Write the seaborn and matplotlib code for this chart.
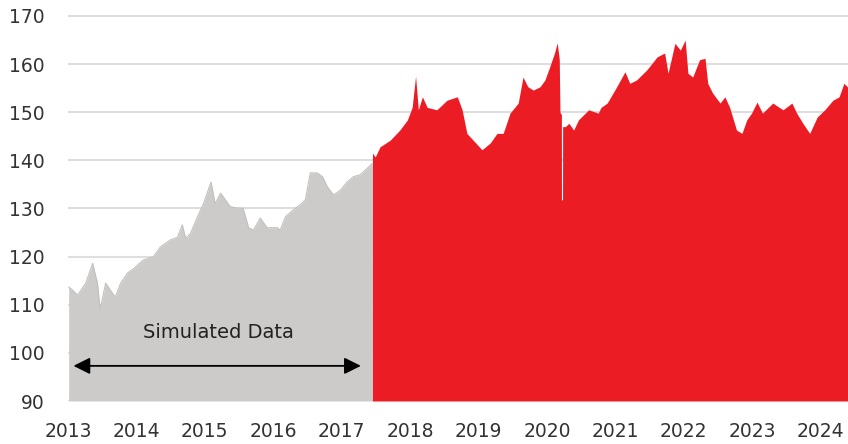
import matplotlib
matplotlib.use("Agg")
import matplotlib.pyplot as plt
import seaborn as sns
import pandas as pd

# ---- data (decimal year, index value) ----
sim_years = [2013.01, 2013.07, 2013.14, 2013.26, 2013.36, 2013.43, 2013.47, 2013.55,
             2013.62, 2013.69, 2013.77, 2013.87, 2013.96, 2014.10, 2014.25, 2014.35,
             2014.50, 2014.60, 2014.67, 2014.72, 2014.79, 2014.89, 2014.98, 2015.09,
             2015.15, 2015.23, 2015.30, 2015.37, 2015.47, 2015.56, 2015.64, 2015.71,
             2015.81, 2015.91, 2016.06, 2016.10, 2016.18, 2016.29, 2016.39, 2016.47,
             2016.54, 2016.64, 2016.72, 2016.79, 2016.88, 2016.98, 2017.08, 2017.17,
             2017.27, 2017.37, 2017.45]
sim_values = [113.7, 113.0, 112.0, 114.5, 118.6, 114.5, 109.0, 114.5,
              113.0, 111.6, 114.5, 116.6, 117.5, 119.3, 120.0, 122.0,
              123.5, 124.0, 126.6, 123.8, 124.8, 128.2, 131.0, 135.5,
              131.0, 133.2, 131.8, 130.4, 130.1, 130.0, 126.0, 125.5,
              128.0, 126.0, 126.0, 125.5, 128.3, 129.7, 130.7, 131.8,
              137.4, 137.4, 136.6, 134.5, 132.8, 133.8, 135.5, 136.6,
              137.0, 138.3, 139.4]

real_years = [2017.45, 2017.49, 2017.56, 2017.71, 2017.85, 2017.96, 2018.03, 2018.08,
              2018.12, 2018.18, 2018.25, 2018.39, 2018.54, 2018.69, 2018.76, 2018.83,
              2018.92, 2019.05, 2019.17, 2019.27, 2019.36, 2019.46, 2019.58, 2019.65,
              2019.72, 2019.80, 2019.90, 2019.97, 2020.04, 2020.11, 2020.15, 2020.18,
              2020.19, 2020.211, 2020.212, 2020.228, 2020.229, 2020.27, 2020.32, 2020.39,
              2020.46, 2020.61, 2020.75, 2020.79, 2020.88, 2021.02, 2021.14, 2021.21,
              2021.31, 2021.46, 2021.61, 2021.72, 2021.77, 2021.87, 2021.95, 2022.02,
              2022.06, 2022.13, 2022.23, 2022.31, 2022.35, 2022.42, 2022.53, 2022.60,
              2022.67, 2022.77, 2022.85, 2022.92, 2022.99, 2023.07, 2023.15, 2023.30,
              2023.45, 2023.58, 2023.65, 2023.74, 2023.84, 2023.95, 2024.06, 2024.18,
              2024.27, 2024.34, 2024.41]
real_values = [141.5, 140.7, 142.8, 144.2, 146.3, 148.4, 151.0, 157.5,
               150.5, 153.2, 151.0, 150.5, 152.5, 153.2, 150.5, 145.6,
               144.2, 142.2, 143.6, 145.6, 145.6, 149.8, 151.9, 157.3,
               155.3, 154.6, 155.3, 156.7, 159.4, 162.3, 164.4, 161.0,
               150.0, 149.5, 131.8, 131.8, 147.0, 147.0, 147.7, 146.3,
               148.4, 150.5, 149.8, 151.0, 151.9, 155.3, 158.4, 156.0,
               156.7, 158.8, 161.5, 162.3, 158.1, 164.3, 162.9, 165.0,
               158.1, 157.3, 160.9, 161.2, 156.0, 154.0, 151.9, 153.2,
               151.0, 146.3, 145.6, 148.4, 149.8, 152.1, 149.8, 151.9,
               150.5, 151.9, 149.8, 147.7, 145.6, 149.0, 150.5, 152.5,
               153.2, 156.0, 155.0]

year_ticks = list(range(2013, 2025))
year_labels = [str(y) for y in year_ticks]
value_ticks = list(range(90, 171, 10))
annotation_text = "Simulated Data"

sim = pd.DataFrame({"year": sim_years, "value": sim_values})
real = pd.DataFrame({"year": real_years, "value": real_values})

sns.set_theme(style="white")
plt.rcParams["font.family"] = ["DejaVu Sans"]

GRAY = "#cdcaca"
RED = "#ec1c24"
TEXT = "#333333"

fig = plt.figure(figsize=(8.48, 4.44), dpi=100)
ax = fig.add_axes([68 / 848, 1 - 401 / 444, 780 / 848, 386.5 / 444])

base = value_ticks[0]
ax.fill_between(sim["year"], sim["value"], base, color=GRAY, lw=0, zorder=2)
ax.fill_between(real["year"], real["value"], base, color=RED, lw=0, zorder=2)
sns.lineplot(data=sim, x="year", y="value", ax=ax, color="#c4c0c0", lw=0.8, zorder=3)

ax.set_xlim(2013, 2024.4)
ax.set_ylim(90, 170.3)
ax.set_xticks(year_ticks)
ax.set_xticklabels(year_labels)
ax.set_yticks(value_ticks)
ax.set_xlabel("")
ax.set_ylabel("")
ax.set_axisbelow(True)
ax.yaxis.grid(True, color="#dedede", lw=1.5, zorder=0)
ax.xaxis.grid(False)
for s in ax.spines.values():
    s.set_visible(False)
ax.tick_params(axis="y", length=0, pad=17, labelsize=13.5, labelcolor=TEXT)
ax.tick_params(axis="x", length=0, pad=15, labelsize=13.5, labelcolor=TEXT)

ax.annotate("", xy=(2013.08, 97.3), xytext=(2017.28, 97.3),
            arrowprops=dict(arrowstyle="<|-|>,head_length=0.8,head_width=0.4",
                            color="black", lw=1.3, mutation_scale=12.5,
                            shrinkA=0, shrinkB=0), zorder=5)
ax.text(2015.2, 104.3, annotation_text, ha="center", va="center",
        fontsize=14, color="#222222", zorder=5)

fig.savefig("out.png", dpi=100)
